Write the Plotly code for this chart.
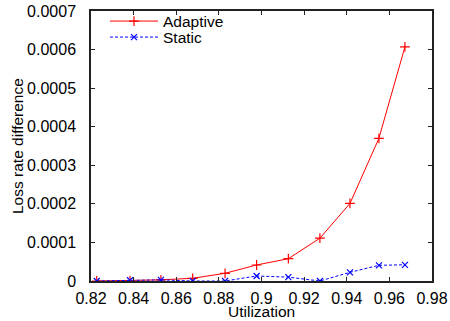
import plotly.graph_objects as go

util = [0.8227, 0.8383, 0.8528, 0.8677, 0.8829, 0.8977, 0.9126, 0.9274, 0.9415, 0.9551, 0.9673]
adaptive = [0.0, 0.000001, 0.000003, 0.000007, 0.00002, 0.0000415, 0.0000578, 0.000111, 0.000201, 0.00037, 0.000607]
static = [0.0, 0.000002, 0.000003, 0.0, 0.0, 0.000013, 0.00001, 0.0, 0.0000225, 0.0000407, 0.000042]

xticks = [0.82, 0.84, 0.86, 0.88, 0.90, 0.92, 0.94, 0.96, 0.98]
xticklabels = ["0.82", "0.84", "0.86", "0.88", "0.9", "0.92", "0.94", "0.96", "0.98"]
yticks = [0, 0.0001, 0.0002, 0.0003, 0.0004, 0.0005, 0.0006, 0.0007]
yticklabels = ["0", "0.0001", "0.0002", "0.0003", "0.0004", "0.0005", "0.0006", "0.0007"]

FONT = "Liberation Sans"
PW, PH = 341, 270  # plot area size in px

fig = go.Figure()
fig.add_trace(go.Scatter(
    x=util, y=adaptive, name="Adaptive", mode="lines+markers", legend="legend",
    line=dict(color="#ff0000", width=1),
    marker=dict(symbol="cross-thin", size=7, line=dict(color="#ff0000", width=1.2)),
))
fig.add_trace(go.Scatter(
    x=util, y=static, name="Static", mode="lines+markers", legend="legend2",
    line=dict(color="#0000ff", width=1, dash="3px,2px"),
    marker=dict(symbol="x-thin", size=6, line=dict(color="#0000ff", width=1.2)),
))

axis_common = dict(
    showgrid=False, zeroline=False, showline=True, linecolor="#222222", linewidth=1.5,
    mirror="ticks", ticks="inside", ticklen=4, tickcolor="#222222", tickwidth=1,
    tickfont=dict(family=FONT, size=16, color="black"), automargin=False,
)
fig.update_xaxes(range=[0.82, 0.98], tickvals=xticks, ticktext=xticklabels,
                 ticklabelstandoff=2, **axis_common)
fig.update_yaxes(range=[0, 0.0007], tickvals=yticks, ticktext=yticklabels,
                 ticklabelstandoff=10, **axis_common)

fig.add_annotation(text="Utilization", xref="paper", yref="paper", x=0.5, y=-31 / PH,
                   xanchor="center", yanchor="middle", showarrow=False,
                   font=dict(family=FONT, size=15.5, color="black"))
fig.add_annotation(text="Loss rate difference", xref="paper", yref="paper", x=-74 / PW, y=0.5,
                   xanchor="center", yanchor="middle", showarrow=False, textangle=-90,
                   font=dict(family=FONT, size=15.5, color="black"))

leg_common = dict(xanchor="left", yanchor="top", bgcolor="rgba(0,0,0,0)",
                  font=dict(family=FONT, size=15.5, color="black"), itemwidth=48)
fig.update_layout(
    width=450, height=321,
    margin=dict(l=91, r=18, t=11, b=40, autoexpand=False),
    paper_bgcolor="white", plot_bgcolor="white",
    font=dict(family=FONT, size=15, color="black"),
    legend=dict(x=14 / PW, y=1 + 6.5 / PH, **leg_common),
    legend2=dict(x=14 / PW, y=1 - 9.5 / PH, **leg_common),
    showlegend=True,
)
fig.write_html("out.html", config={"displayModeBar": False},
               post_script="document.body.style.margin='0';")
